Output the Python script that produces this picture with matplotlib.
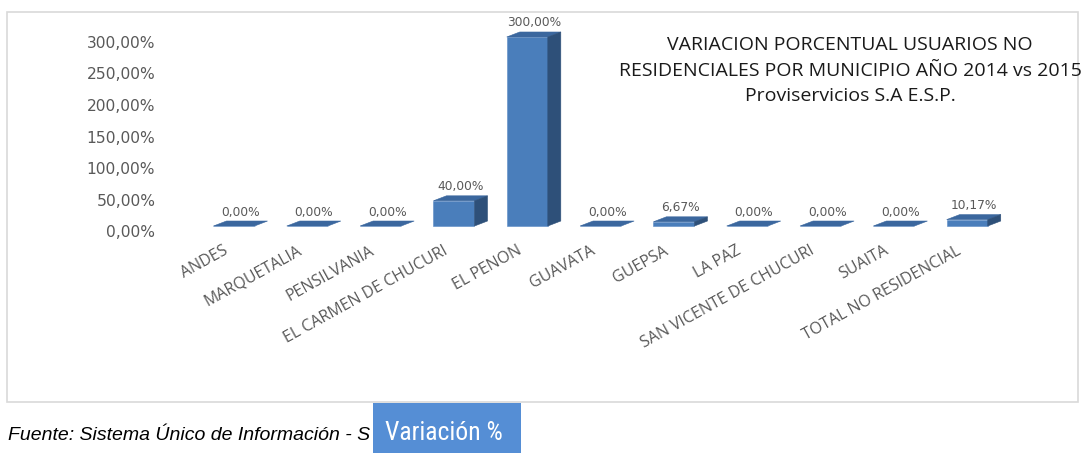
import matplotlib
matplotlib.use("Agg")
import matplotlib.pyplot as plt
from matplotlib import font_manager
from matplotlib.patches import Polygon, Rectangle
from matplotlib.transforms import ScaledTranslation
import numpy as np

categories = ["ANDES", "MARQUETALIA", "PENSILVANIA", "EL CARMEN DE CHUCURI", "EL PENON",
              "GUAVATA", "GUEPSA", "LA PAZ", "SAN VICENTE DE CHUCURI", "SUAITA",
              "TOTAL NO RESIDENCIAL"]
values = [0.0, 0.0, 0.0, 40.0, 300.0, 0.0, 6.67, 0.0, 0.0, 0.0, 10.17]
yticks = [0, 50, 100, 150, 200, 250, 300]
title_lines = ["VARIACION PORCENTUAL USUARIOS NO",
               "RESIDENCIALES POR MUNICIPIO AÑO 2014 vs 2015",
               "Proviservicios S.A E.S.P."]
source_text = "Fuente: Sistema Único de Información - S"
badge_text = "Variación %"

W, H = 1085, 453
DPI = 100
fig = plt.figure(figsize=(W / DPI, H / DPI), dpi=DPI)
fig.patch.set_facecolor("white")

def fx(px):
    return px / W

def fy(py):
    return 1 - py / H

def pick_font(cands, default):
    for c in cands:
        try:
            font_manager.findfont(font_manager.FontProperties(family=c),
                                  fallback_to_default=False)
            return c
        except Exception:
            pass
    return default

narrow_font = pick_font(["Liberation Sans Narrow", "Roboto Condensed",
                         "Open Sans Condensed", "DejaVu Sans Condensed"], "Roboto")

# chart frame
fig.patches.append(Rectangle((fx(7), fy(402)), fx(1078) - fx(7), fy(12) - fy(402),
                             transform=fig.transFigure, fill=False,
                             edgecolor="#D9D9D9", linewidth=1.2, zorder=0))

ax_l, ax_r, ax_t, ax_b = 165, 1075, 15, 240
ax = fig.add_axes([fx(ax_l), fy(ax_b), fx(ax_r) - fx(ax_l), fy(ax_t) - fy(ax_b)])
ax.set_facecolor("none")
x = np.arange(len(categories))
ax.set_xlim(-0.941, 11.47)
ax.set_ylim(-22.2, 334.9)
for s in ax.spines.values():
    s.set_visible(False)

front_c = "#4A7EBB"
side_c = "#2E5079"
top_c = "#3B679E"
w = 0.56

ax.bar(x, values, width=w, color=front_c, edgecolor="#5B8BC6", linewidth=0.4, zorder=3)

# pixel -> data conversions for depth
p0 = ax.transData.transform((0, 0))
p1 = ax.transData.transform((1, 100))
px_per_x = (p1[0] - p0[0])
px_per_y = (p1[1] - p0[1]) / 100.0
dx = 13 * DPI / 100 / px_per_x
dy = 5 * DPI / 100 / px_per_y

for xi, v in zip(x, values):
    xl, xr = xi - w / 2, xi + w / 2
    top = Polygon([(xl, v), (xr, v), (xr + dx, v + dy), (xl + dx, v + dy)],
                  closed=True, facecolor=top_c, edgecolor=top_c, linewidth=0.4, zorder=4)
    ax.add_patch(top)
    if v > 0:
        side = Polygon([(xr, 0), (xr, v), (xr + dx, v + dy), (xr + dx, dy)],
                       closed=True, facecolor=side_c, edgecolor=side_c, linewidth=0.4, zorder=4)
        ax.add_patch(side)
    lab = ("%.2f%%" % v).replace(".", ",")
    ax.annotate(lab, (xi + dx / 2, v), xytext=(0, 14), textcoords="offset pixels",
                ha="center", va="center", fontsize=8.8, color="#595959",
                family="DejaVu Sans", zorder=5)

ax.set_yticks(yticks)
ax.set_yticklabels([("%.2f%%" % t).replace(".", ",") for t in yticks],
                   fontsize=11.2, color="#595959", family="DejaVu Sans")
ax.tick_params(axis="y", length=0, pad=7)
yoff = ScaledTranslation(0, -5 / 100, fig.dpi_scale_trans)
for lbl in ax.get_yticklabels():
    lbl.set_transform(lbl.get_transform() + yoff)

ax.set_xticks(x)
ax.set_xticklabels(categories, fontsize=11.5, color="#595959", family="Open Sans")
ax.tick_params(axis="x", length=0, pad=7)
xoff = ScaledTranslation(-7 / 100, 0, fig.dpi_scale_trans)
for lbl in ax.get_xticklabels():
    lbl.set_rotation(29)
    lbl.set_ha("right")
    lbl.set_va("center")
    lbl.set_rotation_mode("anchor")
    lbl.set_transform(lbl.get_transform() + xoff)

# title
for i, line in enumerate(title_lines):
    fig.text(fx(850), fy(45 + 25.5 * i), line, ha="center", va="center",
             fontsize=14, color="#1A1A1A", family="Open Sans")

# source text and badge
fig.text(fx(8), fy(436), source_text, ha="left", va="center", fontsize=14,
         style="italic", family="Liberation Sans", color="black", zorder=1)
fig.patches.append(Rectangle((fx(373), fy(453)), fx(521) - fx(373), fy(403) - fy(453),
                             transform=fig.transFigure, facecolor="#558ED5",
                             edgecolor="none", zorder=2))
badge_size = 18.5 if narrow_font != "Roboto" else 16.5
fig.text(fx(444), fy(433), badge_text, ha="center", va="center", fontsize=badge_size,
         color="white", family=narrow_font, zorder=3)

fig.savefig("out.png", dpi=DPI)
